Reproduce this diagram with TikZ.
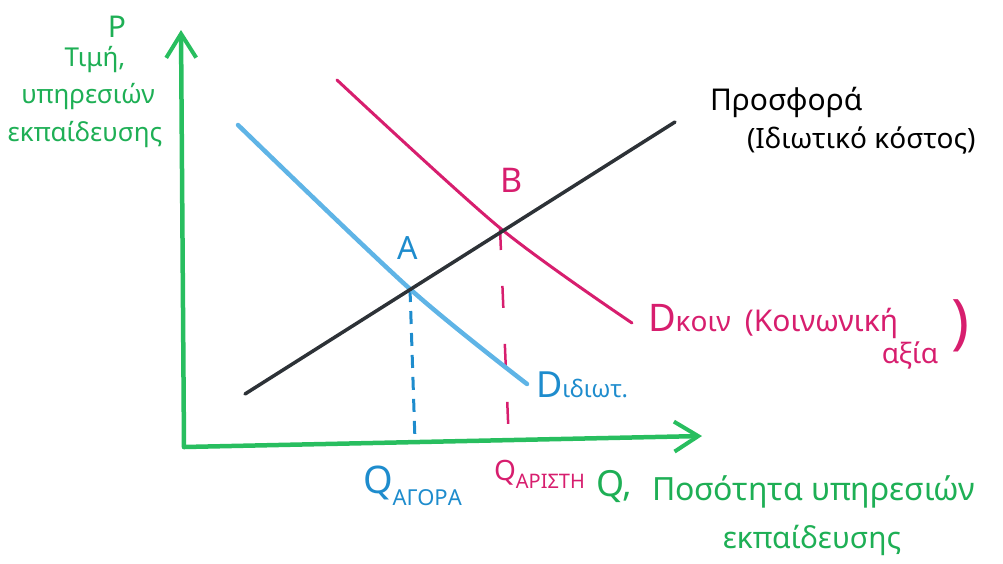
\documentclass[tikz,border=0pt]{standalone}
\usepackage{fontspec}
\setmainfont{Noto Sans}
\usetikzlibrary{arrows.meta}
\definecolor{axgreen}{RGB}{40,190,95}
\definecolor{txgreen}{RGB}{30,175,85}
\definecolor{bluetx}{RGB}{30,140,205}
\definecolor{blueln}{RGB}{95,180,230}
\definecolor{pinkc}{RGB}{215,30,110}
\definecolor{blackln}{RGB}{45,50,55}
\newcommand{\fsz}[1]{\fontsize{#1}{#1}\selectfont}
\tikzset{
  axisline/.style={draw=axgreen, line width=4.5pt, line cap=round, line join=round,
    -{Straight Barb[length=24pt,width=30pt,line width=4pt]}},
  supplyline/.style={draw=blackln, line width=3.5pt, line cap=round},
  privline/.style={draw=blueln, line width=4.5pt, line cap=round},
  socline/.style={draw=pinkc, line width=3pt, line cap=round},
  bluedash/.style={draw=bluetx, line width=3pt, dash pattern=on 13pt off 9pt},
  pinkdash/.style={draw=pinkc, line width=2.5pt, dash pattern=on 22pt off 36pt},
  txt/.style={inner sep=0pt, outer sep=0pt},
}
\begin{document}
\begin{tikzpicture}[x=1pt,y=-1pt]
\useasboundingbox (0,0) rectangle (1003,563);
% axes
\coordinate (O) at (184,447);
\coordinate (ytip) at (181,30);
\coordinate (xtip) at (702,436);
\draw[axisline] (O) -- (ytip);
\draw[axisline] (O) -- (xtip);
% curves
\coordinate (s1) at (245,394);
\coordinate (s2) at (675,122);
\coordinate (b1) at (238,125);
\coordinate (A) at (410,289);
\coordinate (b2) at (527,384);
\coordinate (p1) at (337,80);
\coordinate (B) at (500,228);
\coordinate (p2) at (632,323);
\coordinate (qa) at (415,441);
\coordinate (qb) at (509,444);
\draw[bluedash] (A) -- (qa);
\draw[pinkdash] (B) -- (qb);
\draw[privline] plot[smooth, tension=0.5] coordinates {(b1) (A) (b2)};
\draw[socline] plot[smooth, tension=0.5] coordinates {(p1) (B) (p2)};
\draw[supplyline] (s1) -- (s2);
% y-axis label
\node[txt, text=txgreen, font=\fsz{30}] (P) at (117,27) {P};
\node[txt, text=txgreen, font=\fsz{26}] (y1) at (95,60) {Τιμή,};
\node[txt, text=txgreen, font=\fsz{26}] (y2) at (88,97) {υπηρεσιών};
\node[txt, text=txgreen, font=\fsz{26}] (y3) at (85,135) {εκπαίδευσης};
% supply label
\node[txt, text=black, font=\fsz{30}, anchor=base west] (sl1) at (710,110) {Προσφορά};
\node[txt, text=black, font=\fsz{28}, anchor=base west] (sl2) at (747,148) {(Ιδιωτικό κόστος)};
% social demand label
\node[txt, text=pinkc, anchor=base west] (dk) at (648,331) {{\fsz{38}D}{\fsz{28}κοιν}\hspace{14pt}{\fsz{30}(Κοινωνική}};
\node[txt, text=pinkc, font=\fsz{28}, anchor=base] (dk2) at (910,363) {αξία};
\node[txt, text=pinkc, font=\fsz{60}] (dkp) at (960,326) {)};
% private demand label
\node[txt, text=bluetx, anchor=base west] (dp) at (536,397) {{\fsz{36}D}{\fsz{24}ιδιωτ.}};
% points
\node[txt, text=bluetx, font=\fsz{32}] (Al) at (408,248) {A};
\node[txt, text=pinkc, font=\fsz{34}] (Bl) at (512,180) {B};
% x-axis labels
\node[txt, text=bluetx, anchor=base west] (qal) at (363,493) {{\fsz{38}Q}\raisebox{-12pt}{\fsz{22}ΑΓΟΡΑ}};
\node[txt, text=pinkc, anchor=base west] (qbl) at (494,480) {{\fsz{28}Q}\raisebox{-8pt}{\fsz{20}ΑΡΙΣΤΗ}};
\node[txt, text=txgreen, font=\fsz{36}, anchor=base west] (ql) at (596,496) {Q,};
\node[txt, text=txgreen, font=\fsz{32}, anchor=base west] (xl1) at (652,500) {Ποσότητα υπηρεσιών};
\node[txt, text=txgreen, font=\fsz{30}] (xl2) at (812,540) {εκπαίδευσης};
\end{tikzpicture}
\end{document}
